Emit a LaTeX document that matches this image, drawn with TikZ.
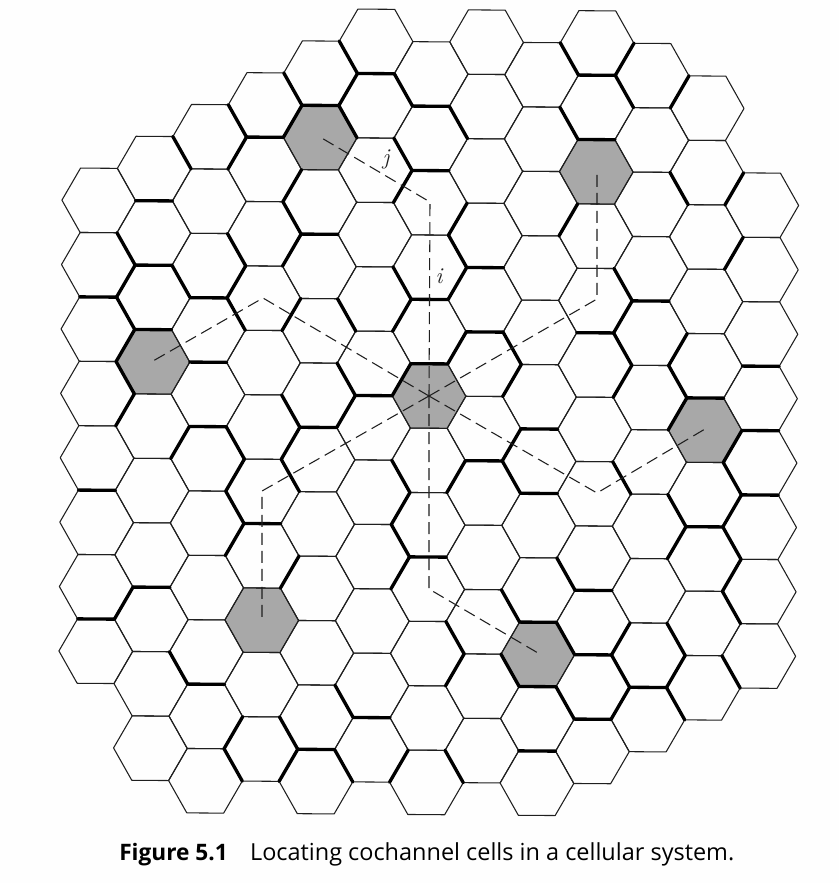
\documentclass[tikz,border=0pt]{standalone}
\usepackage{fontspec}
\newfontfamily\capfont{Open Sans}
\definecolor{ink}{gray}{0.12}
\definecolor{cellgray}{gray}{0.66}
\definecolor{paper}{gray}{0.995}
\tikzset{
  cellline/.style={line width=0.8pt,draw=ink,line join=round},
  shadedcell/.style={fill=cellgray,draw=none},
  boldedge/.style={line width=2.5pt,draw=black,line cap=round},
  dashline/.style={line width=0.8pt,draw=ink,dash pattern=on 9pt off 4.5pt},
  lettering/.style={font=\itshape\fontsize{17}{17}\selectfont,inner sep=0pt,text=ink},
  captiontext/.style={font=\capfont\fontsize{17.6}{20}\selectfont,inner sep=0pt,anchor=base west,text=black},
  lattice/.style={shift={(429,396)},x={(41.44pt,-0.3pt)},y={(-0.16pt,-24.15pt)}}
}
\begin{document}
\begin{tikzpicture}[x=0.75pt,y=-0.75pt]
\useasboundingbox[fill=paper] (0,0) rectangle (839,883);
\begin{scope}[lattice]
  \foreach \cc/\rr in {0/0,-2/-8,3/-7,-5/-1,5/1,-3/7,2/8}
    \fill[shadedcell] ({\cc-1/3},{\rr-1}) -- ({\cc+1/3},{\rr-1}) -- ({\cc+2/3},\rr) -- ({\cc+1/3},{\rr+1}) -- ({\cc-1/3},{\rr+1}) -- ({\cc-2/3},\rr) -- cycle;
  \foreach \cc/\rmin/\rmax in {-6/-6/8,-5/-7/11,-4/-8/12,-3/-9/11,-2/-10/12,-1/-11/11,0/-10/12,1/-11/11,2/-10/12,3/-11/11,4/-10/10,5/-9/9,6/-6/8}{
    \pgfmathtruncatemacro{\rnext}{\rmin+2}
    \foreach \rr in {\rmin,\rnext,...,\rmax}
      \draw[cellline] ({\cc-1/3},{\rr-1}) -- ({\cc+1/3},{\rr-1}) -- ({\cc+2/3},\rr) -- ({\cc+1/3},{\rr+1}) -- ({\cc-1/3},{\rr+1}) -- ({\cc-2/3},\rr) -- cycle;
  }
  \foreach \cc/\rr in {-2/-8,-3/-7,-5/-5,-5/-3,-2/-4,-1/-9,0/-8,0/-6,1/-3,3/-9,3/-7,-6/-2,-4/-2,-5/-1,-4/0,-4/2,-2/2,-3/5,-6/4,0/-2,-1/1,0/0,1/-1,2/2,1/3,2/4,4/-2,3/-1,5/1,6/0,6/2,6/4,5/5,-5/7,-6/8,-4/10,-2/12,0/6,2/8,2/10,-1/11,2/12,3/7,3/9,4/10,3/11}
    \draw[boldedge] ({\cc-1/3},{\rr-1}) -- ({\cc+1/3},{\rr-1});
  \foreach \cc/\rr in {-3/-9,-4/-8,-5/-7,-6/-4,-5/-3,-4/-4,-3/-5,-2/-10,-2/-8,-1/-9,0/-8,-1/-7,0/-4,2/-10,2/-8,3/-9,4/-6,-6/-2,-4/-2,-6/0,-3/1,-4/2,-3/3,-4/4,-1/-3,-2/-2,-2/0,1/-1,1/3,-1/3,-1/5,3/-3,3/-1,4/0,5/3,4/4,5/5,3/3,-5/9,-4/12,-3/11,1/7,2/8,1/9,2/10,0/8,-2/10,-2/12,0/12,2/6,5/7,3/9,4/8,4/10,5/9}
    \draw[boldedge] ({\cc+1/3},{\rr-1}) -- ({\cc+2/3},\rr);
  \foreach \cc/\rr in {-3/-9,-4/-8,-3/-7,-6/-4,-4/-4,-3/-5,-2/-10,-1/-7,0/-6,0/-4,2/-6,3/-11,4/-10,5/-7,5/-5,-6/-2,-6/0,-3/-3,-5/1,-3/1,-4/2,-4/4,-1/-3,-2/0,-1/-1,0/-2,1/-1,1/1,0/2,-1/3,-1/5,3/-3,3/-1,4/-2,4/0,5/1,5/3,4/4,5/5,-6/6,-3/5,-4/10,-3/11,0/8,-1/11,3/7,3/9,4/8}
    \draw[boldedge] ({\cc+2/3},\rr) -- ({\cc+1/3},{\rr+1});
\end{scope}
\coordinate (hub) at (429,396);
\coordinate (nnw) at (430,202);
\coordinate (nnwend) at (320,137);
\coordinate (nne) at (597,299);
\coordinate (nneend) at (597,172);
\coordinate (ese) at (597,493);
\coordinate (eseend) at (705,429);
\coordinate (sse) at (429,589);
\coordinate (sseend) at (538,653);
\coordinate (ssw) at (262,491);
\coordinate (sswend) at (262,619);
\coordinate (wnw) at (263,298);
\coordinate (wnwend) at (153,361);
\draw[dashline] (hub) -- (nnw) -- (nnwend);
\draw[dashline] (hub) -- (nne) -- (nneend);
\draw[dashline] (hub) -- (ese) -- (eseend);
\draw[dashline] (hub) -- (sse) -- (sseend);
\draw[dashline] (hub) -- (ssw) -- (sswend);
\draw[dashline] (hub) -- (wnw) -- (wnwend);
\node[lettering] (labeli) at (439,276) {i};
\node[lettering] (labelj) at (386,159) {j};
\node[captiontext] (caption) at (119,860) {{\fontsize{17}{20}\selectfont\bfseries Figure 5.1}\hspace{0.95em}Locating cochannel cells in a cellular system.};
\end{tikzpicture}
\end{document}
